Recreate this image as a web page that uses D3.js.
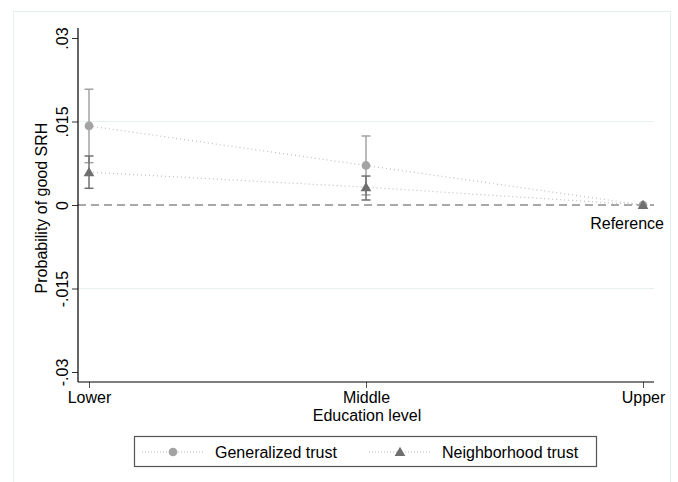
<!DOCTYPE html>
<html>
<head>
<meta charset="utf-8">
<script src="https://cdn.jsdelivr.net/npm/d3@7"></script>
<style>
  body { margin:0; background:#fff; }
  svg text { font-family: "Liberation Sans", Arial, sans-serif; }
</style>
</head>
<body>
<div id="container"></div>
<script>
// education levels and estimates
const levels = ["Lower", "Middle", "Upper"];
const generalized = [0.0142, 0.0071, 0];
const generalizedLo = [0.0076, 0.0018, null];
const generalizedHi = [0.0208, 0.0124, null];
const neighborhood = [0.0059, 0.0032, 0];
const neighborhoodLo = [0.0030, 0.0009, null];
const neighborhoodHi = [0.0088, 0.0052, null];
const yTicks = [-0.03, -0.015, 0, 0.015, 0.03];
const yTickLabels = ["-.03", "-.015", "0", ".015", ".03"];

const width = 678, height = 482;
const svg = d3.select("#container").append("svg")
    .attr("width", width).attr("height", height);

// outer frame (runs off the bottom edge)
svg.append("rect")
    .attr("x", 13.5).attr("y", 11.5).attr("width", 657).attr("height", 480)
    .attr("fill", "#fff").attr("stroke", "#e6eeee");

const x = d3.scalePoint().domain(levels).range([89, 643]);
const y = d3.scaleLinear().domain([-0.03, 0.03]).range([372, 38]);
const pLeft = 78, pRight = 654, pTop = 28, pBottom = 382;

// grid lines
svg.append("g").selectAll("line")
    .data([-0.015, 0.015])
    .join("line")
      .attr("x1", pLeft).attr("x2", pRight)
      .attr("y1", d => y(d)).attr("y2", d => y(d))
      .attr("stroke", "#e8f0f0").attr("stroke-width", 1.2);

// zero reference line
svg.append("line")
    .attr("x1", pLeft).attr("x2", pRight)
    .attr("y1", y(0)).attr("y2", y(0))
    .attr("stroke", "#8c8c8c").attr("stroke-width", 1.4)
    .attr("stroke-dasharray", "8,5");

// y axis
const yAxis = svg.append("g")
    .attr("transform", `translate(${pLeft},0)`)
    .call(d3.axisLeft(y).tickValues(yTicks)
      .tickFormat((d, i) => yTickLabels[i]).tickSize(6).tickPadding(0));
yAxis.select(".domain").remove();
yAxis.selectAll(".tick line").attr("stroke", "#333");
yAxis.selectAll(".tick text")
    .attr("transform", "translate(-10,0) rotate(-90)")
    .attr("text-anchor", "middle").attr("dy", 0)
    .attr("x", 0).attr("y", 0)
    .style("font-size", "16px").attr("fill", "#000");
svg.append("line")
    .attr("x1", pLeft).attr("x2", pLeft).attr("y1", pTop).attr("y2", pBottom)
    .attr("stroke", "#000").attr("stroke-width", 1.2);

// x axis
const xAxis = svg.append("g")
    .attr("transform", `translate(0,${pBottom})`)
    .call(d3.axisBottom(x).tickSize(6).tickPadding(4));
xAxis.select(".domain").remove();
xAxis.selectAll(".tick line").attr("stroke", "#555");
xAxis.selectAll(".tick text").style("font-size", "16px").attr("fill", "#000");
svg.append("line")
    .attr("x1", pLeft).attr("x2", pRight).attr("y1", pBottom).attr("y2", pBottom)
    .attr("stroke", "#000").attr("stroke-width", 1.2);

// axis titles
svg.append("text")
    .attr("transform", `translate(47,${(pTop + pBottom) / 2 + 3}) rotate(-90)`)
    .attr("text-anchor", "middle").style("font-size", "16px")
    .text("Probability of good SRH");
svg.append("text")
    .attr("x", (pLeft + pRight) / 2 + 1).attr("y", 421)
    .attr("text-anchor", "middle").style("font-size", "16px")
    .text("Education level");

const series = [
  { name: "Generalized trust", vals: generalized, lo: generalizedLo, hi: generalizedHi,
    color: "#a3a3a3", shape: d3.symbolCircle, size: 60 },
  { name: "Neighborhood trust", vals: neighborhood, lo: neighborhoodLo, hi: neighborhoodHi,
    color: "#6f6f6f", shape: d3.symbolTriangle, size: 50 }
];

const line = d3.line().x((d, i) => x(levels[i])).y(d => y(d));

series.forEach(s => {
  const g = svg.append("g");
  g.append("path")
      .attr("d", line(s.vals))
      .attr("fill", "none").attr("stroke", "#bdbdbd")
      .attr("stroke-width", 1.2).attr("stroke-dasharray", "1,3");
  const ci = levels.map((l, i) => ({ l, lo: s.lo[i], hi: s.hi[i] })).filter(d => d.lo !== null);
  g.selectAll("line.bar").data(ci).join("line")
      .attr("x1", d => x(d.l)).attr("x2", d => x(d.l))
      .attr("y1", d => y(d.lo)).attr("y2", d => y(d.hi))
      .attr("stroke", s.color).attr("stroke-width", 1.5);
  ["lo", "hi"].forEach(k => {
    g.selectAll("line.cap" + k).data(ci).join("line")
        .attr("x1", d => x(d.l) - 4.5).attr("x2", d => x(d.l) + 4.5)
        .attr("y1", d => y(d[k])).attr("y2", d => y(d[k]))
        .attr("stroke", s.color).attr("stroke-width", 1.5);
  });
  g.selectAll("path.pt").data(s.vals).join("path")
      .attr("transform", (d, i) => `translate(${x(levels[i])},${y(d) + (s.shape === d3.symbolTriangle ? 1 : 0)})`)
      .attr("d", d3.symbol().type(s.shape).size(s.size))
      .attr("fill", s.color);
});

svg.append("text")
    .attr("x", 664).attr("y", 229)
    .attr("text-anchor", "end").style("font-size", "16px")
    .text("Reference");

// legend
const legend = svg.append("g");
legend.append("rect")
    .attr("x", 134.5).attr("y", 436.5).attr("width", 462).attr("height", 30)
    .attr("fill", "#fff").attr("stroke", "#555").attr("stroke-width", 1.2);
const legendX = [142, 369];
series.forEach((s, i) => {
  const lx = legendX[i];
  legend.append("line")
      .attr("x1", lx).attr("x2", lx + 62).attr("y1", 452).attr("y2", 452)
      .attr("stroke", "#bdbdbd").attr("stroke-width", 1.2).attr("stroke-dasharray", "1,2");
  legend.append("path")
      .attr("transform", `translate(${lx + 31},${452 + (i ? 1 : 0)})`)
      .attr("d", d3.symbol().type(s.shape).size(s.size))
      .attr("fill", s.color);
  legend.append("text")
      .attr("x", lx + 73).attr("y", 458)
      .style("font-size", "16px").text(s.name);
});
</script>
</body>
</html>
